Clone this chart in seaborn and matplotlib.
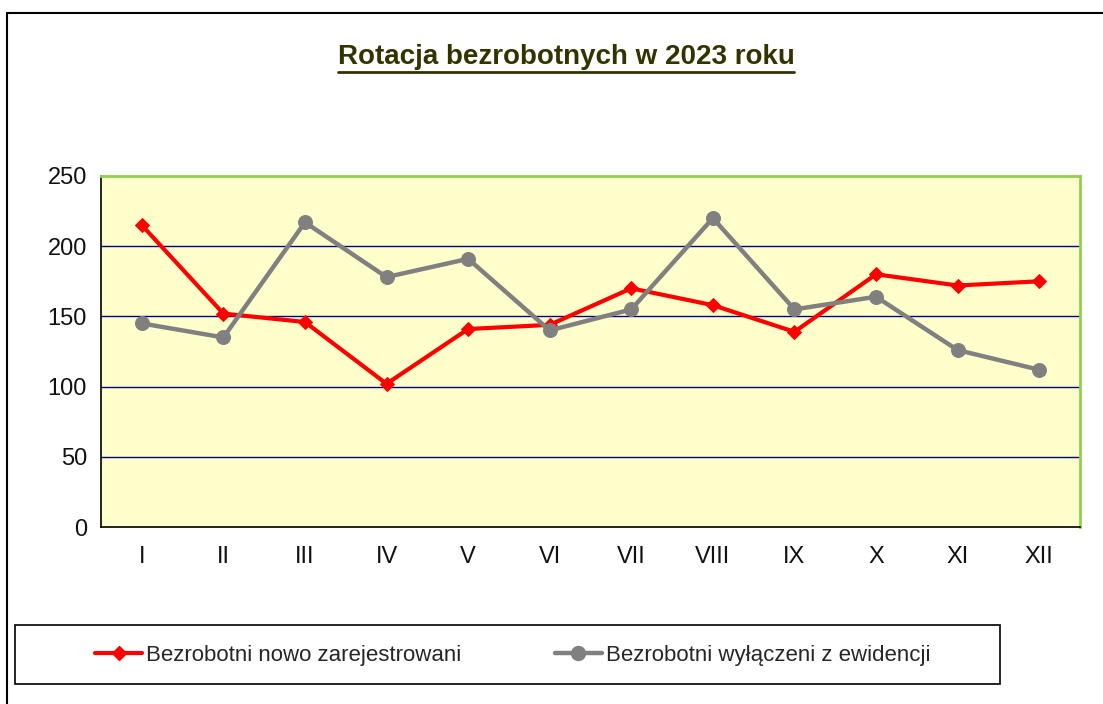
import numpy as np
import pandas as pd
import matplotlib
matplotlib.use("Agg")
import matplotlib.pyplot as plt
import seaborn as sns
from matplotlib.lines import Line2D
from matplotlib.patches import Rectangle

# Data
months = ['I', 'II', 'III', 'IV', 'V', 'VI', 'VII', 'VIII', 'IX', 'X', 'XI', 'XII']
nowo_zarejestrowani = [215, 152, 146, 102, 141, 144, 170, 158, 139, 180, 172, 175]
wylaczeni = [145, 135, 217, 178, 191, 140, 155, 220, 155, 164, 126, 112]
y_ticks = [0, 50, 100, 150, 200, 250]

title = 'Rotacja bezrobotnych w 2023 roku'
label_red = 'Bezrobotni nowo zarejestrowani'
label_gray = 'Bezrobotni wyłączeni z ewidencji'

sns.set_theme(style='white')
plt.rcParams['font.family'] = ['Liberation Sans', 'DejaVu Sans']

W, H = 1103, 704
fig = plt.figure(figsize=(W / 100, H / 100), dpi=100)
fig.patch.set_facecolor('white')

# plot area in pixel coordinates of the reference
left, right, top, bottom = 101, 1080, 176, 527
ax = fig.add_axes([left / W, 1 - bottom / H, (right - left) / W, (bottom - top) / H])
ax.set_facecolor('#ffffcc')

df = pd.DataFrame({'pos': np.arange(len(months)),
                   'red': nowo_zarejestrowani,
                   'gray': wylaczeni})

sns.lineplot(data=df, x='pos', y='red', ax=ax, color='#ff0000', linewidth=3,
             marker='D', markersize=7, markeredgecolor='#ff0000', label=label_red, zorder=3)
sns.lineplot(data=df, x='pos', y='gray', ax=ax, color='#808080', linewidth=3.2,
             marker='o', markersize=10, markeredgecolor='#808080', label=label_gray, zorder=4)

ax.set_xlim(-0.5, len(months) - 0.5)
ax.set_ylim(0, 250)
ax.set_yticks(y_ticks)
ax.set_yticklabels([str(v) for v in y_ticks], fontsize=17, color='#111111')
ax.set_xticks(np.arange(len(months)))
ax.set_xticklabels(months, fontsize=17, color='#111111')
ax.set_xticks(np.arange(-0.5, len(months)), minor=True)
ax.tick_params(axis='x', which='major', length=0, pad=14)
ax.tick_params(axis='x', which='minor', length=8, width=1, color='black', direction='out')
ax.tick_params(axis='y', length=6, width=1, color='black', direction='out', pad=4)
ax.set_xlabel('')
ax.set_ylabel('')

for v in y_ticks[1:-1]:
    ax.axhline(v, color='#000080', linewidth=1, zorder=1)

for side in ['top', 'right']:
    ax.spines[side].set_color('#92d050')
    ax.spines[side].set_linewidth(2)
for side in ['left', 'bottom']:
    ax.spines[side].set_color('black')
    ax.spines[side].set_linewidth(1.2)

ax.get_legend().remove()

# title with underline
t = fig.text(566 / W, 1 - 57 / H, title, ha='center', va='center', fontsize=20,
             fontweight='bold', color='#333300')
fig.canvas.draw()
bb = t.get_window_extent().transformed(fig.transFigure.inverted())
fig.add_artist(Line2D([bb.x0, bb.x1], [1 - 72 / H, 1 - 72 / H], transform=fig.transFigure,
                      color='#333300', linewidth=2))

# outer frame (top and left)
fig.add_artist(Line2D([7 / W, 1], [1 - 13 / H, 1 - 13 / H], transform=fig.transFigure,
                      color='black', linewidth=1.5))
fig.add_artist(Line2D([7 / W, 7 / W], [0, 1 - 13 / H], transform=fig.transFigure,
                      color='black', linewidth=1.5))

# legend box
fig.add_artist(Rectangle((15 / W, 1 - 684 / H), 985 / W, 59 / H, transform=fig.transFigure,
                         facecolor='white', edgecolor='black', linewidth=1.2))
handles = [Line2D([], [], color='#ff0000', linewidth=3, marker='D', markersize=7),
           Line2D([], [], color='#808080', linewidth=3.2, marker='o', markersize=10)]
fig.legend(handles, [label_red, label_gray], loc='center', ncol=2,
           bbox_to_anchor=(513 / W, 1 - 655 / H), frameon=False, fontsize=16,
           handlelength=2.1, handletextpad=0.2, columnspacing=4.2)

fig.savefig('out.png', dpi=100)
